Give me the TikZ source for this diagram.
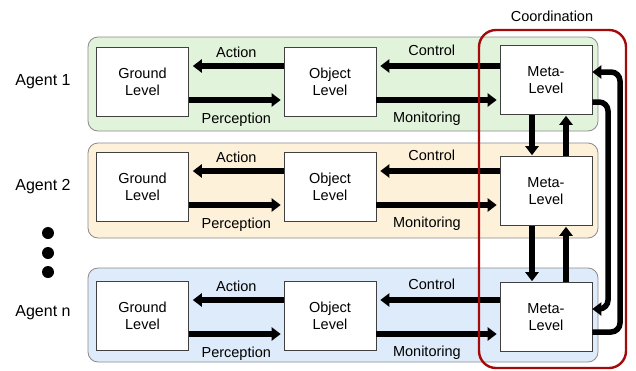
\documentclass[tikz,border=0pt]{standalone}
\usepackage{fontspec}
\setmainfont{Liberation Sans}
\usetikzlibrary{arrows.meta,calc}
\definecolor{pgreen}{HTML}{E1F3DA}
\definecolor{pyellow}{HTML}{FDF1DA}
\definecolor{pblue}{HTML}{DEEBFB}
\definecolor{pborder}{HTML}{8A8A8A}
\definecolor{cred}{HTML}{A50A0A}
\tikzset{
  panel/.style={draw=pborder, line width=0.8pt, rounded corners=10pt},
  levelbox/.style={draw=black!75, line width=0.6pt, fill=white, minimum width=92pt, minimum height=69pt, align=center, font=\fontsize{14.5}{17}\selectfont, inner sep=0pt},
  flow/.style={line width=5.5pt, -{Triangle[width=13pt,length=9pt]}},
  lbl/.style={font=\fontsize{14.5}{16}\selectfont, inner sep=0pt},
  agentlbl/.style={font=\fontsize{16}{18}\selectfont, inner sep=0pt},
  dotmark/.style={circle, fill=black, minimum size=12pt, inner sep=0pt},
  loop/.style={line width=5.5pt, rounded corners=9pt, -{Triangle[width=13pt,length=9pt]}},
}
\begin{document}
\begin{tikzpicture}[x=1pt,y=-1pt]
\useasboundingbox (0,0) rectangle (636,370);
% panels
\draw[panel, fill=pgreen] (88,37) rectangle (598,131);
\draw[panel, fill=pyellow] (88,143) rectangle (598,238);
\draw[panel, fill=pblue] (88,268) rectangle (598,362);
% agent labels
\node[agentlbl] (ag1) at (43,82) {Agent 1};
\node[agentlbl] (ag2) at (43,187) {Agent 2};
\node[agentlbl] (agn) at (43,313) {Agent n};
\node[dotmark] (d1) at (48,233) {};
\node[dotmark] (d2) at (48,253) {};
\node[dotmark] (d3) at (48,272) {};
% boxes
\foreach \r/\y/\my in {1/82/80, 2/187/191, 3/316/317} {
  \node[levelbox] (g\r) at (142.5,\y) {Ground\\Level};
  \node[levelbox] (o\r) at (330,\y) {Object\\Level};
  \node[levelbox] (m\r) at (546,\my) {Meta-\\Level};
}
% horizontal arrows
\foreach \r in {1,2,3} {
  \coordinate (ot\r) at ([yshift=16pt]o\r.east);
  \coordinate (ob\r) at ([yshift=-18pt]o\r.east);
  \coordinate (om\r) at (o\r.east);
  \draw[flow, shorten >=4pt] ([yshift=16pt]o\r.west) -- ([yshift=16pt]g\r.east);
  \draw[flow, shorten >=3pt] ([yshift=-18pt]g\r.east) -- ([yshift=-18pt]o\r.west);
  \draw[flow, shorten >=4pt] (m\r.west |- ot\r) -- (ot\r);
  \draw[flow, shorten >=3pt] (ob\r) -- (m\r.west |- ob\r);
  \node[lbl] (act\r) at ([yshift=30pt]$(g\r.east)!0.5!(o\r.west)$) {Action};
  \node[lbl] (per\r) at ([yshift=-38pt]$(g\r.east)!0.5!(o\r.west)$) {Perception};
  \node[lbl] (con\r) at ([yshift=32pt]$(om\r)!0.45!(m\r.west |- om\r)$) {Control};
  \node[lbl] (mon\r) at ([yshift=-37pt]$(om\r)!0.41!(m\r.west |- om\r)$) {Monitoring};
}
% vertical arrows between meta levels
\draw[flow, shorten >=1pt] (m1.south -| 532,0) -- (m2.north -| 532,0);
\draw[flow, shorten >=1pt] (m2.north -| 566,0) -- (m1.south -| 566,0);
\draw[flow, shorten >=1pt] (m2.south -| 532,0) -- (m3.north -| 532,0);
\draw[flow, shorten >=1pt] (m3.north -| 566,0) -- (m2.south -| 566,0);
% loops
\coordinate (la) at (608,102);
\coordinate (lb) at (608,309);
\coordinate (lc) at (620,332);
\coordinate (ld) at (620,72);
\draw[loop] (m1.east |- la) -- (la) -- (lb) -- (m3.east |- lb);
\draw[loop] (m3.east |- lc) -- (lc) -- (ld) -- (m1.east |- ld);
% coordination
\draw[cred, line width=2.4pt, rounded corners=17pt] (479,30) rectangle (626,368);
\node[lbl] (coord) at (552,16) {Coordination};
\end{tikzpicture}
\end{document}
